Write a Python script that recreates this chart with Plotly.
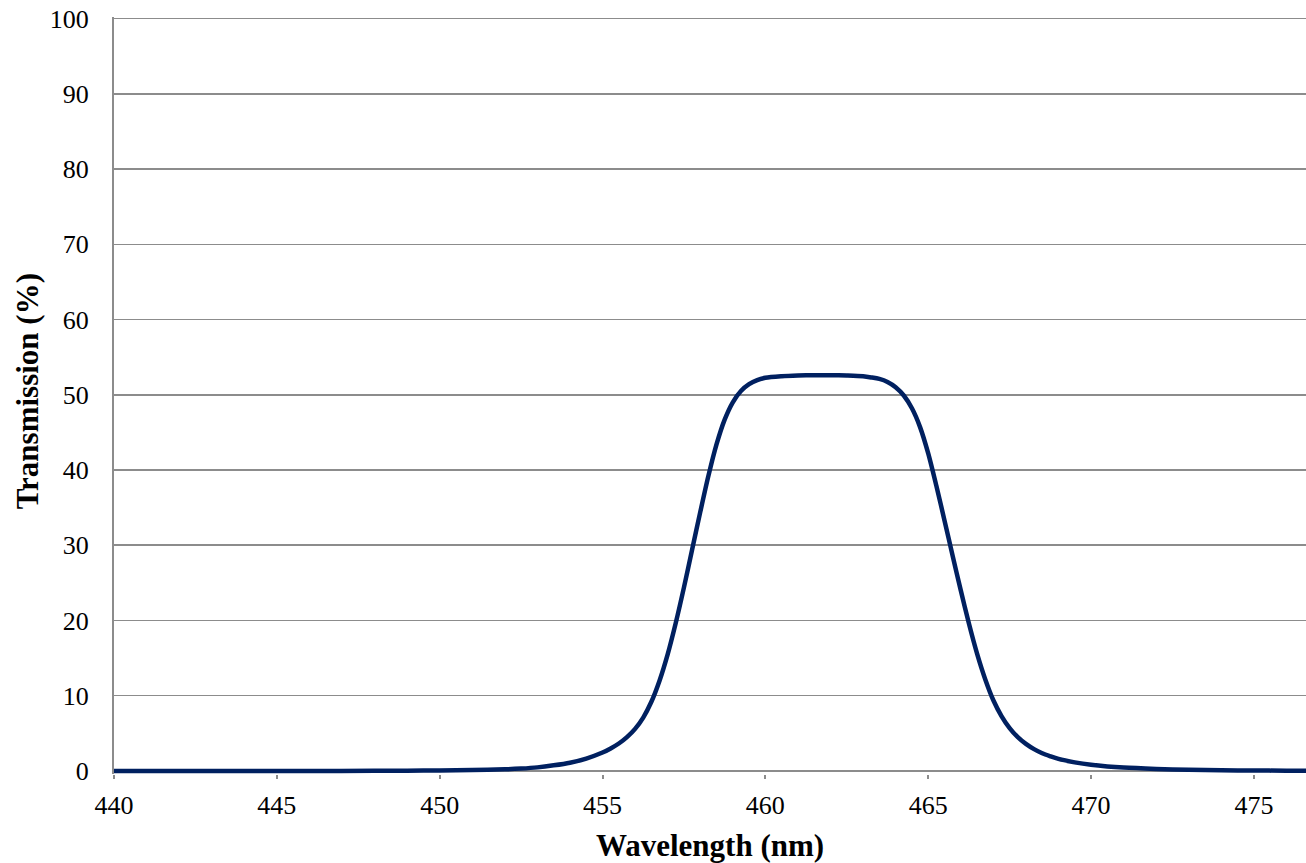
import plotly.graph_objects as go

wavelength = [440, 442, 444, 446, 448, 449, 450, 451, 452, 452.5, 453, 453.5, 454, 454.5,
              455, 455.25, 455.5, 455.75, 456, 456.25, 456.5, 456.75, 457, 457.25, 457.5, 457.75,
              458, 458.25, 458.5, 458.75, 459, 459.25, 459.5, 459.75, 460, 460.5, 461,
              461.5, 462, 462.5, 463, 463.25, 463.5, 463.75, 464, 464.25, 464.5, 464.75,
              465, 465.25, 465.5, 465.75, 466, 466.25, 466.5, 466.75, 467, 467.25, 467.5,
              467.75, 468, 468.25, 468.5, 468.75, 469, 469.5, 470, 470.5, 471, 472, 473,
              474, 475, 476, 476.6]
transmission = [0.0, 0.0, 0.0, 0.01, 0.02, 0.04, 0.07, 0.13, 0.22, 0.32, 0.48, 0.75, 1.1, 1.65,
                2.45, 3.0, 3.65, 4.5, 5.6, 7.1, 9.2, 12.0, 15.5, 19.7, 24.4, 29.4,
                34.4, 39.2, 43.4, 46.7, 49.0, 50.5, 51.4, 51.95, 52.25, 52.45, 52.55,
                52.6, 52.6, 52.55, 52.45, 52.3, 52.1, 51.7, 51.0, 49.9, 48.2, 45.7,
                42.2, 37.9, 33.3, 28.6, 24.0, 19.6, 15.6, 12.2, 9.4, 7.3, 5.7,
                4.5, 3.6, 2.9, 2.35, 1.95, 1.6, 1.15, 0.82, 0.6, 0.45, 0.28, 0.16,
                0.1, 0.06, 0.04, 0.03]

x_ticks = [440, 445, 450, 455, 460, 465, 470, 475]
y_ticks = [0, 10, 20, 30, 40, 50, 60, 70, 80, 90, 100]

grid_col = "#8c8c8c"
font_family = "Liberation Serif"

fig = go.Figure()
fig.add_trace(go.Scatter(
    x=wavelength, y=transmission, mode="lines",
    line=dict(color="#002060", width=4.5, shape="spline", smoothing=0.8),
    showlegend=False, hoverinfo="skip"))

fig.update_layout(
    width=1306, height=863,
    margin=dict(l=114, r=0, t=17, b=89),
    paper_bgcolor="white", plot_bgcolor="white",
    font=dict(family=font_family, color="black", size=26),
    showlegend=False,
    annotations=[dict(
        text="<b>Transmission (%)</b>", textangle=-90,
        xref="paper", yref="paper", x=-0.0725, y=0.505,
        xanchor="center", yanchor="middle", showarrow=False,
        font=dict(size=31, family=font_family, color="black"),
    )],
)
fig.update_xaxes(
    range=[440, 476.6], tickvals=x_ticks, ticktext=[str(v) for v in x_ticks],
    showgrid=False, showline=False, zeroline=False,
    ticks="outside", ticklen=4, tickwidth=2, tickcolor=grid_col,
    ticklabelstandoff=4,
    tickfont=dict(size=26, family=font_family),
    title=dict(text="<b>Wavelength (nm)</b>", font=dict(size=31, family=font_family), standoff=15),
    automargin=False,
)
fig.update_yaxes(
    range=[-0.4, 100.2], tickvals=y_ticks, ticktext=[str(v) for v in y_ticks],
    showgrid=True, gridcolor=grid_col, gridwidth=1.5,
    zeroline=True, zerolinecolor=grid_col, zerolinewidth=2,
    showline=True, linecolor=grid_col, linewidth=2,
    ticks="", ticklabelstandoff=18,
    tickfont=dict(size=26, family=font_family),
    automargin=False,
)

fig.write_html(
    "out.html",
    config={"displayModeBar": False, "staticPlot": True},
    post_script="document.body.style.margin='0';document.body.style.overflow='hidden';",
)
